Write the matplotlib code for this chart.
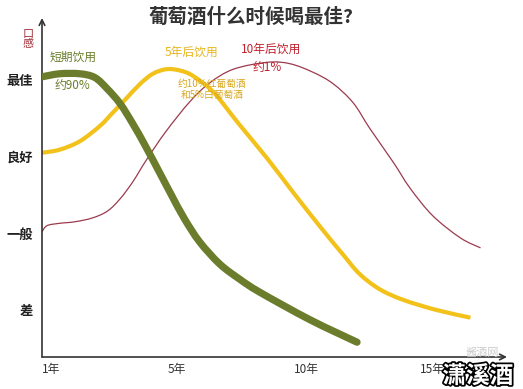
import matplotlib
matplotlib.use("Agg")
import numpy as np
import matplotlib.pyplot as plt
import matplotlib.patheffects as pe
from matplotlib.path import Path
from matplotlib.patches import PathPatch

plt.rcParams['font.family'] = ['Noto Sans CJK SC', 'DejaVu Sans']

# taste levels on y, drinking time on x (tick index: 1年, 5年, 10年, 15年)
y_levels = [1, 2, 3, 4]
y_labels = ['差', '一般', '良好', '最佳']
x_ticks = [0, 1, 2, 3]
x_labels = ['1年', '5年', '10年', '15年']

# short-term drinking (~90%)
short_x = [0, 0.14, 0.30, 0.42, 0.52, 0.62, 0.72, 0.82, 0.94, 1.03, 1.13, 1.25, 1.41, 1.57,
           1.73, 2.13, 2.50]
short_y = [4.04, 4.08, 4.08, 4.03, 3.88, 3.69, 3.43, 3.14, 2.77, 2.49, 2.19, 1.89, 1.60, 1.40,
           1.23, 0.87, 0.58]

# drink after 5 years (~10% red, 5% white)
five_x = [0, 0.14, 0.30, 0.46, 0.56, 0.67, 0.78, 0.88, 0.99, 1.10, 1.20, 1.36, 1.57, 1.79,
          1.99, 2.21, 2.39, 2.52, 2.68, 2.87, 3.13, 3.40]
five_y = [3.05, 3.09, 3.20, 3.40, 3.57, 3.76, 3.95, 4.08, 4.14, 4.12, 4.05, 3.84, 3.41, 2.97,
          2.54, 2.08, 1.72, 1.47, 1.27, 1.13, 1.00, 0.90]

# drink after 10 years (~1%)
ten_x = [0, 0.04, 0.14, 0.26, 0.40, 0.52, 0.62, 0.72, 0.83, 0.98, 1.17, 1.33, 1.52, 1.79,
         1.97, 2.15, 2.31, 2.47, 2.60, 2.79, 2.92, 3.10, 3.32, 3.48]
ten_y = [2.02, 2.10, 2.13, 2.15, 2.20, 2.29, 2.45, 2.67, 2.96, 3.32, 3.71, 3.96, 4.14, 4.23,
         4.21, 4.10, 3.95, 3.70, 3.37, 2.92, 2.59, 2.23, 1.94, 1.81]

green = '#6b7d2c'
yellow = '#f2c21b'
red = '#9c3a4e'


def smooth_path(xs, ys):
    # catmull-rom through the read points, drawn as cubic bezier segments
    p = np.column_stack([xs, ys])
    p = np.vstack([p[0], p, p[-1]])
    verts = [p[1]]
    codes = [Path.MOVETO]
    for i in range(1, len(p) - 2):
        c1 = p[i] + (p[i + 1] - p[i - 1]) / 6
        c2 = p[i + 1] - (p[i + 2] - p[i]) / 6
        verts += [c1, c2, p[i + 1]]
        codes += [Path.CURVE4] * 3
    return Path(verts, codes)


fig = plt.figure(figsize=(5.23, 3.89), dpi=100)
ax = fig.add_axes([42 / 523, 32 / 389, 465 / 523, 339 / 389])
ax.set_xlim(0, 3.69)
ax.set_ylim(0.387, 4.807)

ax.add_patch(PathPatch(smooth_path(ten_x, ten_y), fill=False, edgecolor=red, lw=0.9, zorder=2))
ax.add_patch(PathPatch(smooth_path(five_x, five_y), fill=False, edgecolor=yellow, lw=3,
                       capstyle='butt', joinstyle='round', zorder=3))
ax.add_patch(PathPatch(smooth_path(short_x, short_y), fill=False, edgecolor=green, lw=5.2,
                       capstyle='round', joinstyle='round', zorder=4))

for s in ax.spines.values():
    s.set_visible(False)
ax.annotate('', xy=(1.0, 0), xytext=(0, 0), xycoords='axes fraction',
            arrowprops=dict(arrowstyle='->', lw=1.2, color='#333333', shrinkA=0, shrinkB=0))
ax.annotate('', xy=(0, 1.0), xytext=(0, 0), xycoords='axes fraction',
            arrowprops=dict(arrowstyle='->', lw=1.2, color='#333333', shrinkA=0, shrinkB=0))

ax.set_yticks(y_levels)
ax.set_yticklabels(y_labels, fontsize=9.5, fontweight='bold', color='#222222')
ax.set_xticks(x_ticks)
ax.set_xticklabels(x_labels, fontsize=8.5, color='#333333', ha='left')
ax.tick_params(axis='y', length=0, pad=6.5)
ax.tick_params(axis='x', length=0, pad=4)

fig.text(251 / 523, 1 - 17 / 389, '葡萄酒什么时候喝最佳?', ha='center', va='center',
         fontsize=14, fontweight='bold', color='#333333')
fig.text(28 / 523, 1 - 39 / 389, '口\n感', ha='center', va='center', fontsize=8,
         color='#a0303a', linespacing=1.05)

ax.text(0.06, 4.3, '短期饮用', fontsize=8.5, color=green, ha='left', va='center')
ax.text(0.10, 3.93, '约90%', fontsize=8.5, color=green, ha='left', va='center')
ax.text(1.19, 4.36, '5年后饮用', fontsize=8.5, color='#e8b51c', ha='center', va='center')
ax.text(1.35, 3.95, '约10%红葡萄酒', fontsize=7, color='#d9a820', ha='center', va='center')
ax.text(1.35, 3.80, '和5%白葡萄酒', fontsize=7, color='#d9a820', ha='center', va='center')
ax.text(1.82, 4.4, '10年后饮用', fontsize=8.5, color='#c0202c', ha='center', va='center')
ax.text(1.79, 4.16, '约1%', fontsize=8.5, color='#c0202c', ha='center', va='center')

# watermark
fig.text(482 / 523, 1 - 353 / 389, '酱酒网', ha='center', va='center', fontsize=8,
         color='#cccccc')
fig.text(478 / 523, 1 - 376 / 389, '潇溪酒', ha='center', va='center', fontsize=17,
         fontweight='bold', style='italic', color='white',
         path_effects=[pe.withStroke(linewidth=2.5, foreground='black')])

fig.savefig('out.png', dpi=100)
